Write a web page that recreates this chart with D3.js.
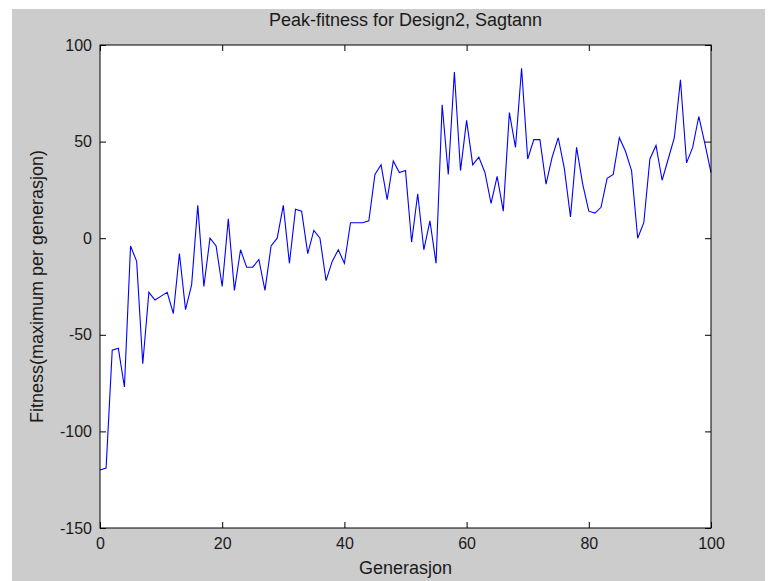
<!DOCTYPE html>
<html>
<head>
<meta charset="utf-8">
<script src="https://cdn.jsdelivr.net/npm/d3@7"></script>
<style>
  html, body { margin: 0; padding: 0; background: #ffffff; }
  svg { display: block; }
  text { font-family: "Liberation Sans", Arial, sans-serif; fill: #1a1a1a; }
</style>
</head>
<body>
<svg id="chart" width="769" height="581"></svg>
<script>
// Peak fitness per generation (generations 0..100)
const generations = d3.range(0, 101);
const peakFitness = [
  -120, -119, -58, -57, -77, -4, -12, -65, -28, -32,
  -30, -28, -39, -8, -37, -24, 17, -25, 0, -4,
  -25, 10, -27, -6, -15, -15, -11, -27, -4, 0,
  17, -13, 15, 14, -8, 4, 0, -22, -12, -6,
  -13, 8, 8, 8, 9, 33, 38, 20, 40, 34,
  35, -2, 23, -6, 9, -13, 69, 33, 86, 35,
  61, 38, 42, 34, 18, 32, 14, 65, 47, 88,
  41, 51, 51, 28, 42, 52, 36, 11, 47, 28,
  14, 13, 16, 31, 33, 52, 45, 35, 0, 8,
  41, 48, 30, 41, 52, 82, 39, 47, 63, 49,
  34
];

const xTicks = [0, 20, 40, 60, 80, 100];
const yTicks = [-150, -100, -50, 0, 50, 100];

const titleText = "Peak-fitness for Design2, Sagtann";
const xLabelText = "Generasjon";
const yLabelText = "Fitness(maximum per generasjon)";

const svg = d3.select("#chart");

// Figure background
svg.append("rect")
  .attr("x", 12).attr("y", 9)
  .attr("width", 753).attr("height", 572)
  .attr("fill", "#cccccc");

const plot = { left: 100, right: 711, top: 45, bottom: 528 };

const x = d3.scaleLinear().domain([0, 100]).range([plot.left, plot.right]);
const y = d3.scaleLinear().domain([-150, 100]).range([plot.bottom, plot.top]);

// Axes background
svg.append("rect")
  .attr("x", plot.left).attr("y", plot.top)
  .attr("width", plot.right - plot.left).attr("height", plot.bottom - plot.top)
  .attr("fill", "#ffffff");

// Data line
const line = d3.line()
  .x((d, i) => x(generations[i]))
  .y(d => y(d));

svg.append("path")
  .datum(peakFitness)
  .attr("fill", "none")
  .attr("stroke", "#0000ff")
  .attr("stroke-width", 1.1)
  .attr("stroke-linejoin", "miter")
  .attr("d", line);

// Axes with inward ticks on all four sides
const tickLen = 6;
const tickFont = 16;
const labelFont = 18;
const plainFormat = d => String(d);  // hyphen-minus, as in the labels

const bottomAxis = d3.axisBottom(x).tickValues(xTicks).tickFormat(plainFormat)
  .tickSizeInner(-tickLen).tickSizeOuter(0).tickPadding(10);
const topAxis = d3.axisTop(x).tickValues(xTicks).tickSizeInner(-tickLen).tickSizeOuter(0).tickFormat("");
const leftAxis = d3.axisLeft(y).tickValues(yTicks).tickFormat(plainFormat)
  .tickSizeInner(-tickLen).tickSizeOuter(0).tickPadding(8);
const rightAxis = d3.axisRight(y).tickValues(yTicks).tickSizeInner(-tickLen).tickSizeOuter(0).tickFormat("");

function styleAxis(g) {
  g.select(".domain").remove();
  g.selectAll(".tick line").attr("stroke", "#000").attr("stroke-width", 1);
  g.selectAll(".tick text")
    .attr("fill", "#1a1a1a")
    .style("font-family", '"Liberation Sans", Arial, sans-serif')
    .style("font-size", tickFont + "px");
}

svg.append("g").attr("transform", `translate(0,${plot.bottom})`).call(bottomAxis).call(styleAxis)
  .selectAll(".tick text").attr("dy", "0.71em");
svg.append("g").attr("transform", `translate(0,${plot.top})`).call(topAxis).call(styleAxis);
svg.append("g").attr("transform", `translate(${plot.left},0)`).call(leftAxis).call(styleAxis);
svg.append("g").attr("transform", `translate(${plot.right},0)`).call(rightAxis).call(styleAxis);

// Axes box
svg.append("rect")
  .attr("x", plot.left).attr("y", plot.top)
  .attr("width", plot.right - plot.left).attr("height", plot.bottom - plot.top)
  .attr("fill", "none")
  .attr("stroke", "#000")
  .attr("stroke-width", 1);

// Title and labels
svg.append("text")
  .attr("x", (plot.left + plot.right) / 2).attr("y", 26)
  .attr("text-anchor", "middle")
  .style("font-size", labelFont + "px")
  .text(titleText);

svg.append("text")
  .attr("x", (plot.left + plot.right) / 2).attr("y", 574)
  .attr("text-anchor", "middle")
  .style("font-size", labelFont + "px")
  .text(xLabelText);

svg.append("text")
  .attr("transform", `translate(43,${(plot.top + plot.bottom) / 2}) rotate(-90)`)
  .attr("text-anchor", "middle")
  .style("font-size", labelFont + "px")
  .text(yLabelText);
</script>
</body>
</html>
